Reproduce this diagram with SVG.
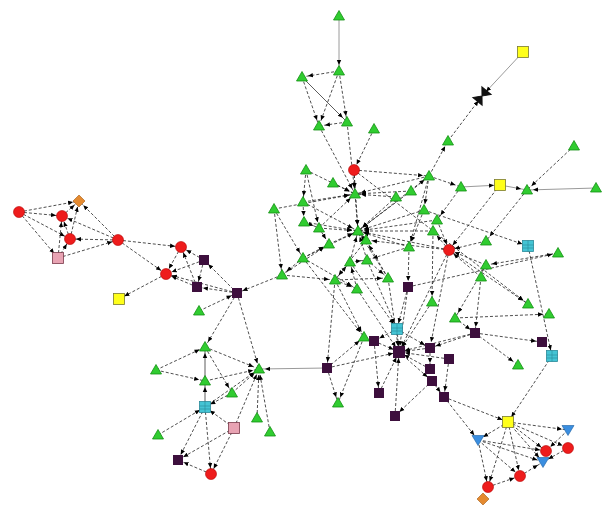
<svg xmlns="http://www.w3.org/2000/svg" width="604" height="508" viewBox="0 0 604 508">
<style>
.e line{stroke:#222;stroke-width:0.8;stroke-dasharray:3 2;marker-end:url(#a);fill:none}
.e line.s{stroke:#9a9a9a;stroke-dasharray:none;stroke-width:1}
.e line.k{stroke:#333;stroke-dasharray:none}
</style>
<defs>
<marker id="a" markerWidth="12" markerHeight="6" refX="11" refY="3" orient="auto" markerUnits="userSpaceOnUse" viewBox="0 0 12 6"><path d="M0,0.8 L5,3 L0,5.2 z" fill="#000"/></marker>
<path id="tri" d="M0,-5.5 L5.5,4 L-5.5,4 Z" fill="#30cc30" stroke="#138f13" stroke-width="0.8"/>
<circle id="red" r="5.5" fill="#ee1c1c" stroke="#b50000" stroke-width="0.6"/>
<rect id="pur" x="-5" y="-5" width="10" height="10" fill="#3d0f3d"/>
<rect id="pur2" x="-6" y="-6" width="12" height="12" fill="#3d0f3d"/>
<rect id="yel" x="-5.5" y="-5.5" width="11" height="11" fill="#ffff1a" stroke="#7a7a30" stroke-width="0.8"/>
<g id="cya"><rect x="-5.5" y="-5.5" width="11" height="11" fill="#44c4d4" stroke="#2a8a99" stroke-width="0.8"/><path d="M-5.5,-1 H5.5 M-5.5,2 H5.5 M0,-5.5 V5.5" stroke="#2a8a99" stroke-width="0.6"/></g>
<rect id="pnk" x="-5.5" y="-5.5" width="11" height="11" fill="#e8a3b3" stroke="#7a3a4a" stroke-width="0.8"/>
<path id="dia" d="M0,-6 L6,0 L0,6 L-6,0Z" fill="#e48a30" stroke="#a55a10" stroke-width="0.6"/>
<path id="inv" d="M-6,-4.5 L6,-4.5 L0,5.5Z" fill="#3a8ee0" stroke="#1a5ea0" stroke-width="0.6"/>
<path id="hg" d="M-6,-7 L6,-7 L-6,7 L6,7 Z" fill="#111" stroke="#111" stroke-width="1"/>
</defs>
<rect width="604" height="508" fill="#fff"/>
<g id="connectors" class="e">
<line x1="19" y1="212" x2="79" y2="201"/>
<line x1="19" y1="212" x2="62" y2="216"/>
<line x1="19" y1="212" x2="70" y2="239"/>
<line x1="19" y1="212" x2="58" y2="258"/>
<line x1="62" y1="216" x2="79" y2="201"/>
<line x1="70" y1="239" x2="79" y2="201"/>
<line x1="70" y1="239" x2="62" y2="216"/>
<line x1="58" y1="258" x2="62" y2="216"/>
<line x1="58" y1="258" x2="70" y2="239"/>
<line x1="118" y1="240" x2="70" y2="239"/>
<line x1="118" y1="240" x2="62" y2="216"/>
<line x1="118" y1="240" x2="79" y2="201"/>
<line x1="58" y1="258" x2="118" y2="240"/>
<line x1="118" y1="240" x2="181" y2="247"/>
<line x1="118" y1="240" x2="166" y2="274"/>
<line x1="166" y1="274" x2="119" y2="299"/>
<line x1="181" y1="247" x2="166" y2="274"/>
<line x1="204" y1="260" x2="181" y2="247"/>
<line x1="204" y1="260" x2="166" y2="274"/>
<line x1="197" y1="287" x2="181" y2="247"/>
<line x1="197" y1="287" x2="166" y2="274"/>
<line x1="237" y1="293" x2="166" y2="274"/>
<line x1="237" y1="293" x2="204" y2="260"/>
<line x1="237" y1="293" x2="197" y2="287"/>
<line x1="204" y1="260" x2="197" y2="287"/>
<line x1="199" y1="311" x2="237" y2="293"/>
<line x1="282" y1="275" x2="237" y2="293"/>
<line x1="237" y1="293" x2="205" y2="347"/>
<line x1="237" y1="293" x2="259" y2="369"/>
<line x1="156" y1="370" x2="205" y2="347"/>
<line x1="156" y1="370" x2="205" y2="381"/>
<line class="k" x1="205" y1="381" x2="205" y2="347"/>
<line x1="205" y1="347" x2="232" y2="393"/>
<line x1="205" y1="347" x2="259" y2="369"/>
<line x1="205" y1="381" x2="259" y2="369"/>
<line x1="232" y1="393" x2="259" y2="369"/>
<line class="k" x1="205" y1="407" x2="205" y2="381"/>
<line x1="205" y1="407" x2="259" y2="369"/>
<line x1="158" y1="435" x2="205" y2="407"/>
<line x1="234" y1="428" x2="205" y2="407"/>
<line x1="232" y1="393" x2="205" y2="407"/>
<line x1="234" y1="428" x2="178" y2="460"/>
<line x1="205" y1="407" x2="178" y2="460"/>
<line x1="205" y1="407" x2="211" y2="474"/>
<line x1="234" y1="428" x2="211" y2="474"/>
<line x1="257" y1="418" x2="259" y2="369"/>
<line x1="270" y1="432" x2="259" y2="369"/>
<line class="s" x1="327" y1="368" x2="259" y2="369"/>
<line x1="234" y1="428" x2="259" y2="369"/>
<line x1="211" y1="474" x2="178" y2="460"/>
<line x1="327" y1="368" x2="338" y2="403"/>
<line x1="327" y1="368" x2="399" y2="352"/>
<line x1="327" y1="368" x2="364" y2="337"/>
<line x1="364" y1="337" x2="338" y2="403"/>
<line x1="374" y1="341" x2="399" y2="352"/>
<line x1="397" y1="329" x2="399" y2="352"/>
<line x1="397" y1="329" x2="374" y2="341"/>
<line x1="379" y1="393" x2="399" y2="352"/>
<line x1="395" y1="416" x2="399" y2="352"/>
<line x1="432" y1="381" x2="395" y2="416"/>
<line x1="432" y1="381" x2="444" y2="397"/>
<line x1="430" y1="369" x2="399" y2="352"/>
<line x1="430" y1="348" x2="399" y2="352"/>
<line x1="449" y1="359" x2="399" y2="352"/>
<line x1="475" y1="333" x2="399" y2="352"/>
<line x1="475" y1="333" x2="430" y2="348"/>
<line x1="455" y1="318" x2="475" y2="333"/>
<line x1="432" y1="302" x2="399" y2="352"/>
<line x1="408" y1="287" x2="399" y2="352"/>
<line x1="408" y1="287" x2="397" y2="329"/>
<line x1="399" y1="352" x2="432" y2="381"/>
<line x1="444" y1="397" x2="508" y2="422"/>
<line x1="444" y1="397" x2="478" y2="440"/>
<line x1="374" y1="341" x2="379" y2="393"/>
<line x1="430" y1="348" x2="430" y2="369"/>
<line x1="449" y1="359" x2="444" y2="397"/>
<line x1="397" y1="329" x2="430" y2="348"/>
<line x1="357" y1="289" x2="399" y2="352"/>
<line x1="335" y1="280" x2="364" y2="337"/>
<line x1="350" y1="262" x2="397" y2="329"/>
<line x1="388" y1="278" x2="399" y2="352"/>
<line x1="449" y1="250" x2="399" y2="352"/>
<line x1="449" y1="250" x2="430" y2="348"/>
<line x1="303" y1="258" x2="364" y2="337"/>
<line x1="335" y1="280" x2="327" y2="368"/>
<line x1="481" y1="277" x2="475" y2="333"/>
<line x1="486" y1="265" x2="455" y2="318"/>
<line x1="433" y1="231" x2="432" y2="302"/>
<line x1="409" y1="247" x2="408" y2="287"/>
<line x1="367" y1="260" x2="397" y2="329"/>
<line x1="527" y1="190" x2="486" y2="241"/>
<line x1="424" y1="210" x2="528" y2="246"/>
<line x1="528" y1="246" x2="552" y2="356"/>
<line x1="558" y1="253" x2="486" y2="265"/>
<line x1="449" y1="250" x2="528" y2="304"/>
<line x1="475" y1="333" x2="542" y2="342"/>
<line x1="475" y1="333" x2="518" y2="365"/>
<line x1="552" y1="356" x2="508" y2="422"/>
<line x1="408" y1="287" x2="558" y2="253"/>
<line x1="455" y1="318" x2="549" y2="314"/>
<line x1="354" y1="170" x2="528" y2="304"/>
<line x1="508" y1="422" x2="568" y2="430"/>
<line x1="508" y1="422" x2="478" y2="440"/>
<line x1="508" y1="422" x2="568" y2="448"/>
<line x1="508" y1="422" x2="546" y2="451"/>
<line x1="508" y1="422" x2="543" y2="462"/>
<line x1="508" y1="422" x2="520" y2="476"/>
<line x1="508" y1="422" x2="488" y2="487"/>
<line x1="478" y1="440" x2="546" y2="451"/>
<line x1="478" y1="440" x2="543" y2="462"/>
<line x1="478" y1="440" x2="520" y2="476"/>
<line x1="478" y1="440" x2="488" y2="487"/>
<line x1="520" y1="476" x2="543" y2="462"/>
<line x1="488" y1="487" x2="520" y2="476"/>
<line x1="568" y1="448" x2="543" y2="462"/>
<line x1="568" y1="430" x2="546" y2="451"/>
<line class="s" x1="339" y1="16" x2="339" y2="71"/>
<line x1="339" y1="71" x2="302" y2="77"/>
<line x1="339" y1="71" x2="319" y2="126"/>
<line x1="339" y1="71" x2="347" y2="122"/>
<line x1="302" y1="77" x2="319" y2="126"/>
<line class="k" x1="302" y1="77" x2="347" y2="122"/>
<line x1="347" y1="122" x2="319" y2="126"/>
<line x1="319" y1="126" x2="355" y2="194"/>
<line x1="347" y1="122" x2="355" y2="194"/>
<line x1="374" y1="129" x2="354" y2="170"/>
<line class="s" x1="523" y1="52" x2="482" y2="96"/>
<line x1="429" y1="176" x2="448" y2="141"/>
<line x1="448" y1="141" x2="482" y2="96"/>
<line x1="411" y1="191" x2="429" y2="176"/>
<line x1="429" y1="176" x2="461" y2="187"/>
<line x1="354" y1="170" x2="429" y2="176"/>
<line class="s" x1="461" y1="187" x2="500" y2="185"/>
<line class="s" x1="500" y1="185" x2="527" y2="190"/>
<line class="s" x1="596" y1="188" x2="527" y2="190"/>
<line x1="574" y1="146" x2="527" y2="190"/>
<line x1="500" y1="185" x2="449" y2="250"/>
<line x1="429" y1="176" x2="355" y2="194"/>
<line x1="429" y1="176" x2="358" y2="231"/>
<line x1="429" y1="176" x2="424" y2="210"/>
<line x1="429" y1="176" x2="409" y2="247"/>
<line x1="461" y1="187" x2="437" y2="220"/>
<line x1="411" y1="191" x2="355" y2="194"/>
<line x1="411" y1="191" x2="358" y2="231"/>
<line x1="396" y1="197" x2="358" y2="231"/>
<line x1="396" y1="197" x2="355" y2="194"/>
<line x1="306" y1="170" x2="355" y2="194"/>
<line x1="306" y1="170" x2="319" y2="228"/>
<line x1="354" y1="170" x2="355" y2="194"/>
<line x1="354" y1="170" x2="358" y2="231"/>
<line x1="333" y1="183" x2="355" y2="194"/>
<line x1="303" y1="202" x2="355" y2="194"/>
<line x1="303" y1="202" x2="304" y2="222"/>
<line x1="274" y1="209" x2="355" y2="194"/>
<line x1="274" y1="209" x2="303" y2="258"/>
<line x1="274" y1="209" x2="282" y2="275"/>
<line x1="304" y1="222" x2="319" y2="228"/>
<line x1="304" y1="222" x2="358" y2="231"/>
<line x1="319" y1="228" x2="358" y2="231"/>
<line x1="319" y1="228" x2="329" y2="244"/>
<line x1="329" y1="244" x2="358" y2="231"/>
<line x1="303" y1="258" x2="358" y2="231"/>
<line x1="303" y1="258" x2="282" y2="275"/>
<line x1="303" y1="258" x2="329" y2="244"/>
<line x1="282" y1="275" x2="329" y2="244"/>
<line x1="282" y1="275" x2="335" y2="280"/>
<line x1="335" y1="280" x2="357" y2="289"/>
<line x1="350" y1="262" x2="358" y2="231"/>
<line x1="367" y1="260" x2="358" y2="231"/>
<line x1="366" y1="240" x2="358" y2="231"/>
<line x1="357" y1="289" x2="350" y2="262"/>
<line x1="388" y1="278" x2="358" y2="231"/>
<line x1="388" y1="278" x2="366" y2="240"/>
<line x1="424" y1="210" x2="358" y2="231"/>
<line x1="437" y1="220" x2="358" y2="231"/>
<line x1="433" y1="231" x2="358" y2="231"/>
<line x1="409" y1="247" x2="358" y2="231"/>
<line x1="449" y1="250" x2="358" y2="231"/>
<line x1="449" y1="250" x2="366" y2="240"/>
<line x1="449" y1="250" x2="433" y2="231"/>
<line x1="486" y1="241" x2="449" y2="250"/>
<line x1="486" y1="265" x2="449" y2="250"/>
<line x1="481" y1="277" x2="449" y2="250"/>
<line x1="437" y1="220" x2="449" y2="250"/>
<line x1="355" y1="194" x2="358" y2="231"/>
<line x1="319" y1="228" x2="355" y2="194"/>
<line x1="350" y1="262" x2="367" y2="260"/>
<line x1="335" y1="280" x2="350" y2="262"/>
<line x1="409" y1="247" x2="367" y2="260"/>
<line x1="424" y1="210" x2="409" y2="247"/>
<line x1="306" y1="170" x2="303" y2="202"/>
<line x1="303" y1="258" x2="357" y2="289"/>
<line x1="366" y1="240" x2="335" y2="280"/>
<line x1="303" y1="202" x2="358" y2="231"/>
<line x1="367" y1="260" x2="388" y2="278"/>
<line x1="335" y1="280" x2="388" y2="278"/>
</g>
<g id="nodes">
<g id="n1"><use href="#red" x="19" y="212"/></g>
<g id="n2"><use href="#dia" x="79" y="201"/></g>
<g id="n3"><use href="#red" x="62" y="216"/></g>
<g id="n4"><use href="#red" x="70" y="239"/></g>
<g id="n5"><use href="#pnk" x="58" y="258"/></g>
<g id="n6"><use href="#red" x="118" y="240"/></g>
<g id="n7"><use href="#red" x="181" y="247"/></g>
<g id="n8"><use href="#red" x="166" y="274"/></g>
<g id="n9"><use href="#yel" x="119" y="299"/></g>
<g id="n10"><use href="#pur" x="204" y="260"/></g>
<g id="n11"><use href="#pur" x="197" y="287"/></g>
<g id="n12"><use href="#pur" x="237" y="293"/></g>
<g id="n13"><use href="#tri" x="199" y="311"/></g>
<g id="b1"><use href="#tri" x="205" y="347"/></g>
<g id="b2"><use href="#tri" x="156" y="370"/></g>
<g id="b3"><use href="#tri" x="205" y="381"/></g>
<g id="b4"><use href="#tri" x="232" y="393"/></g>
<g id="b5"><use href="#tri" x="259" y="369"/></g>
<g id="b6"><use href="#cya" x="205" y="407"/></g>
<g id="b7"><use href="#pnk" x="234" y="428"/></g>
<g id="b8"><use href="#tri" x="158" y="435"/></g>
<g id="b9"><use href="#tri" x="257" y="418"/></g>
<g id="b10"><use href="#tri" x="270" y="432"/></g>
<g id="b11"><use href="#pur" x="178" y="460"/></g>
<g id="b12"><use href="#red" x="211" y="474"/></g>
<g id="p1"><use href="#pur" x="327" y="368"/></g>
<g id="p2"><use href="#tri" x="338" y="403"/></g>
<g id="p3"><use href="#cya" x="397" y="329"/></g>
<g id="p4"><use href="#tri" x="364" y="337"/></g>
<g id="p5"><use href="#pur" x="374" y="341"/></g>
<g id="p6"><use href="#pur2" x="399" y="352"/></g>
<g id="p7"><use href="#pur" x="430" y="348"/></g>
<g id="p8"><use href="#pur" x="449" y="359"/></g>
<g id="p9"><use href="#pur" x="430" y="369"/></g>
<g id="p10"><use href="#pur" x="432" y="381"/></g>
<g id="p11"><use href="#pur" x="379" y="393"/></g>
<g id="p12"><use href="#pur" x="444" y="397"/></g>
<g id="p13"><use href="#pur" x="395" y="416"/></g>
<g id="p14"><use href="#pur" x="475" y="333"/></g>
<g id="p15"><use href="#tri" x="455" y="318"/></g>
<g id="p16"><use href="#tri" x="432" y="302"/></g>
<g id="p17"><use href="#pur" x="408" y="287"/></g>
<g id="r1"><use href="#cya" x="528" y="246"/></g>
<g id="r2"><use href="#tri" x="558" y="253"/></g>
<g id="r3"><use href="#tri" x="528" y="304"/></g>
<g id="r4"><use href="#tri" x="549" y="314"/></g>
<g id="r5"><use href="#pur" x="542" y="342"/></g>
<g id="r6"><use href="#cya" x="552" y="356"/></g>
<g id="r7"><use href="#tri" x="518" y="365"/></g>
<g id="q1"><use href="#yel" x="508" y="422"/></g>
<g id="q2"><use href="#inv" x="568" y="430"/></g>
<g id="q3"><use href="#inv" x="478" y="440"/></g>
<g id="q4"><use href="#red" x="568" y="448"/></g>
<g id="q5"><use href="#red" x="546" y="451"/></g>
<g id="q6"><use href="#inv" x="543" y="462"/></g>
<g id="q7"><use href="#red" x="520" y="476"/></g>
<g id="q8"><use href="#red" x="488" y="487"/></g>
<g id="q9"><use href="#dia" x="483" y="499"/></g>
<g id="t1"><use href="#tri" x="339" y="16"/></g>
<g id="t2"><use href="#tri" x="339" y="71"/></g>
<g id="t3"><use href="#tri" x="302" y="77"/></g>
<g id="t4"><use href="#tri" x="319" y="126"/></g>
<g id="t5"><use href="#tri" x="347" y="122"/></g>
<g id="t6"><use href="#tri" x="374" y="129"/></g>
<g id="y1"><use href="#yel" x="523" y="52"/></g>
<g id="h1"><use href="#hg" x="482" y="96" transform="rotate(40 482 96)"/></g>
<g id="g1"><use href="#tri" x="448" y="141"/></g>
<g id="g2"><use href="#tri" x="574" y="146"/></g>
<g id="g3"><use href="#tri" x="429" y="176"/></g>
<g id="g4"><use href="#tri" x="411" y="191"/></g>
<g id="g5"><use href="#tri" x="461" y="187"/></g>
<g id="y2"><use href="#yel" x="500" y="185"/></g>
<g id="g6"><use href="#tri" x="527" y="190"/></g>
<g id="g7"><use href="#tri" x="596" y="188"/></g>
<g id="c1"><use href="#tri" x="306" y="170"/></g>
<g id="c2"><use href="#red" x="354" y="170"/></g>
<g id="c3"><use href="#tri" x="333" y="183"/></g>
<g id="c4"><use href="#tri" x="355" y="194"/></g>
<g id="c5"><use href="#tri" x="303" y="202"/></g>
<g id="c6"><use href="#tri" x="274" y="209"/></g>
<g id="c7"><use href="#tri" x="304" y="222"/></g>
<g id="c8"><use href="#tri" x="319" y="228"/></g>
<g id="c9"><use href="#tri" x="358" y="231"/></g>
<g id="c10"><use href="#tri" x="366" y="240"/></g>
<g id="c11"><use href="#tri" x="329" y="244"/></g>
<g id="c12"><use href="#tri" x="303" y="258"/></g>
<g id="c13"><use href="#tri" x="350" y="262"/></g>
<g id="c14"><use href="#tri" x="367" y="260"/></g>
<g id="c15"><use href="#tri" x="282" y="275"/></g>
<g id="c16"><use href="#tri" x="335" y="280"/></g>
<g id="c17"><use href="#tri" x="357" y="289"/></g>
<g id="c18"><use href="#tri" x="388" y="278"/></g>
<g id="c19"><use href="#tri" x="396" y="197"/></g>
<g id="c20"><use href="#tri" x="424" y="210"/></g>
<g id="c21"><use href="#tri" x="437" y="220"/></g>
<g id="c22"><use href="#tri" x="433" y="231"/></g>
<g id="c23"><use href="#tri" x="486" y="241"/></g>
<g id="c24"><use href="#red" x="449" y="250"/></g>
<g id="c25"><use href="#tri" x="409" y="247"/></g>
<g id="c26"><use href="#tri" x="486" y="265"/></g>
<g id="c27"><use href="#tri" x="481" y="277"/></g>
</g>
</svg>
